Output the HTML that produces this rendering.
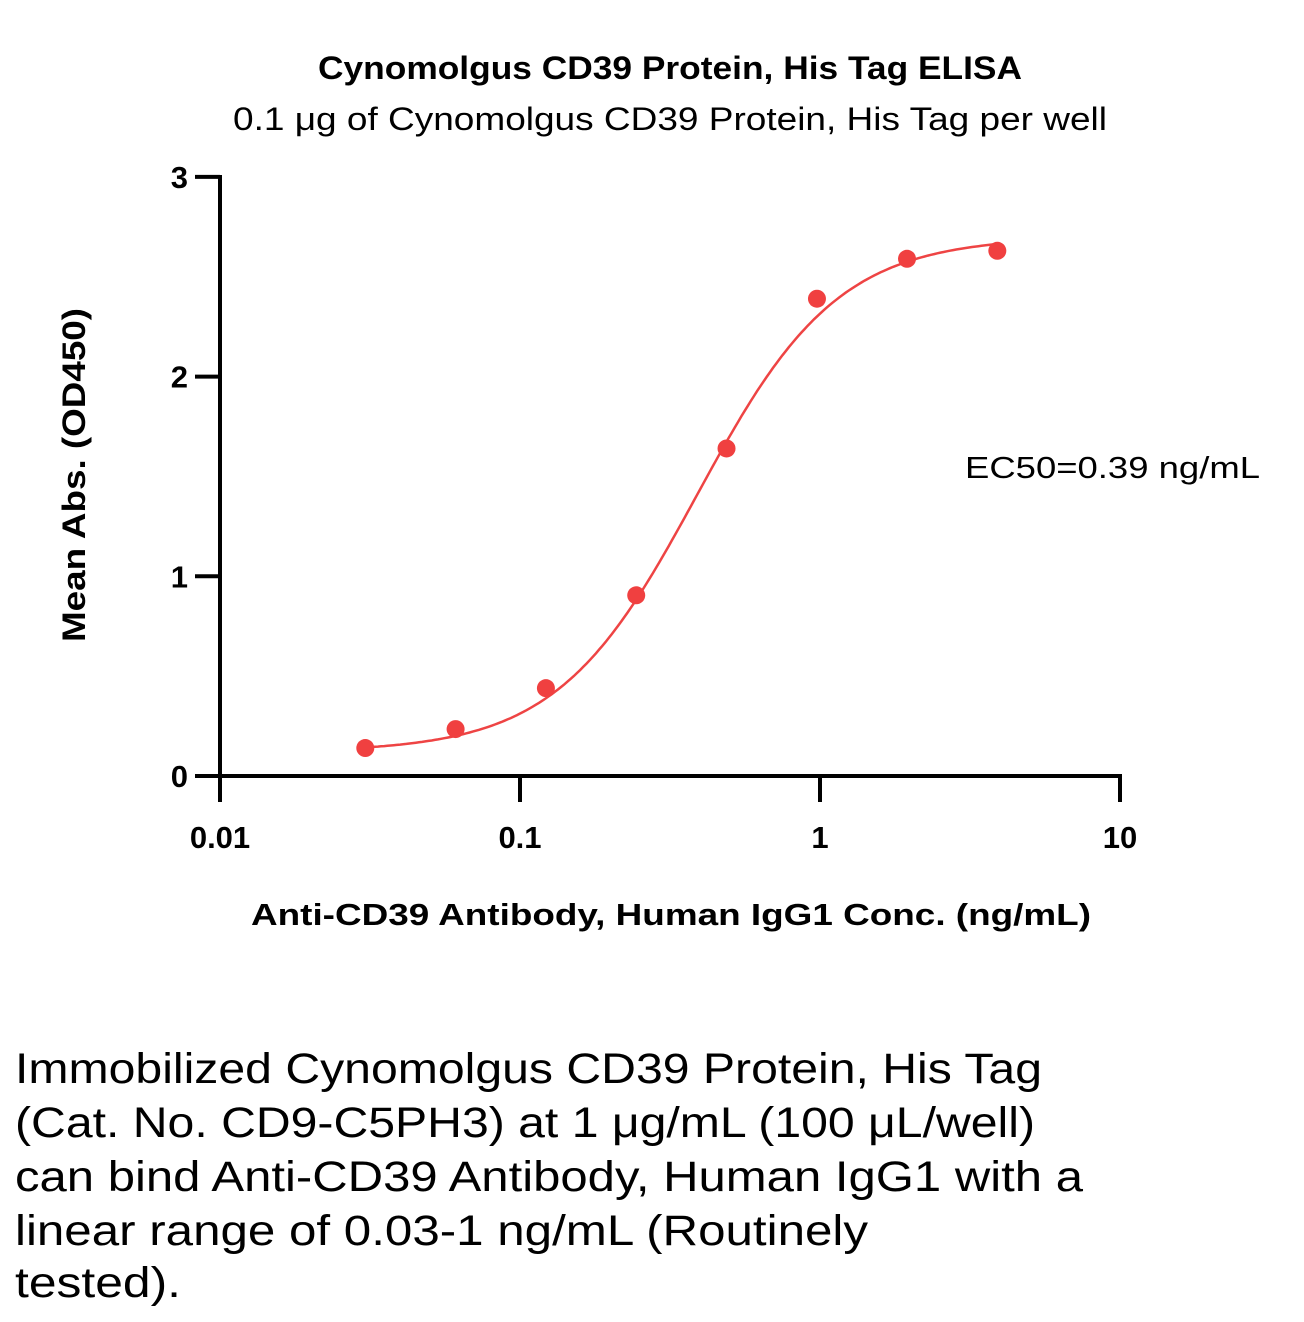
<!DOCTYPE html>
<html><head><meta charset="utf-8"><style>
body{margin:0;background:#fff;width:1304px;height:1322px;overflow:hidden;font-family:"Liberation Sans",sans-serif;}
</style></head><body>
<svg id="chart" width="1304" height="1322" style="position:absolute;left:0;top:0" font-family="Liberation Sans, sans-serif">
<text x="318" y="79" font-size="32" font-weight="bold" textLength="704" lengthAdjust="spacingAndGlyphs">Cynomolgus CD39 Protein, His Tag ELISA</text>
<text x="233" y="130" font-size="32" textLength="874" lengthAdjust="spacingAndGlyphs">0.1 μg of Cynomolgus CD39 Protein, His Tag per well</text>
<text transform="translate(85,642) rotate(-90)" font-size="32" font-weight="bold" textLength="334" lengthAdjust="spacingAndGlyphs">Mean Abs. (OD450)</text>
<text x="251" y="925" font-size="31" font-weight="bold" textLength="840" lengthAdjust="spacingAndGlyphs">Anti-CD39 Antibody, Human IgG1 Conc. (ng/mL)</text>
<text x="965" y="478" font-size="31" textLength="295" lengthAdjust="spacingAndGlyphs">EC50=0.39 ng/mL</text>
<g id="axes"></g><g id="marks"></g>
<g font-size="43">
<text x="15" y="1083" textLength="1027" lengthAdjust="spacingAndGlyphs">Immobilized Cynomolgus CD39 Protein, His Tag</text>
<text x="15" y="1137" textLength="1020" lengthAdjust="spacingAndGlyphs">(Cat. No. CD9-C5PH3) at 1 μg/mL (100 μL/well)</text>
<text x="15" y="1191" textLength="1068" lengthAdjust="spacingAndGlyphs">can bind Anti-CD39 Antibody, Human IgG1 with a</text>
<text x="15" y="1245" textLength="853" lengthAdjust="spacingAndGlyphs">linear range of 0.03-1 ng/mL (Routinely</text>
<text x="15" y="1297" textLength="166" lengthAdjust="spacingAndGlyphs">tested).</text>
</g>
</svg>
<script>
const concs=[0.0305,0.061,0.122,0.244,0.488,0.977,1.95,3.9];
const absVals=[0.14,0.235,0.44,0.905,1.64,2.39,2.59,2.63];
const yTicks=[0,1,2,3];
const xTicks=[0.01,0.1,1,10];
const xTickLabels=["0.01","0.1","1","10"];
const fitBottom=0.12, fitTop=2.70, fitEC50=0.39, fitHill=1.85;
const NS="http://www.w3.org/2000/svg";
const xs=v=>220+300*Math.log10(v/0.01);
const ys=v=>776-199.7*v;
function mk(t,a,p){const e=document.createElementNS(NS,t);for(const k in a)e.setAttribute(k,a[k]);p.appendChild(e);return e;}
const ax=document.getElementById('axes'), mg=document.getElementById('marks');
let l=mk('line',{x1:220,y1:175,x2:220,y2:778,stroke:'#000','stroke-width':4},ax);

l=mk('line',{x1:218,y1:776,x2:1122,y2:776,stroke:'#000','stroke-width':4},ax);

yTicks.forEach(v=>{
 const t=mk('line',{x1:195,y1:ys(v),x2:220,y2:ys(v),stroke:'#000','stroke-width':4},ax);
 
 const tx=mk('text',{x:188,y:ys(v)+11,'text-anchor':'end','font-size':31,'font-weight':'bold'},ax);tx.textContent=v;
 
});
xTicks.forEach((v,i)=>{
 const t=mk('line',{x1:xs(v),y1:776,x2:xs(v),y2:802,stroke:'#000','stroke-width':4},ax);
 
 const tx=mk('text',{x:xs(v),y:848,'text-anchor':'middle','font-size':31,'font-weight':'bold'},ax);tx.textContent=xTickLabels[i];
 
});
let d='';const lo=Math.log10(concs[0]),hi=Math.log10(concs[concs.length-1]);
for(let i=0;i<=200;i++){const c=Math.pow(10,lo+(hi-lo)*i/200);const y=fitBottom+(fitTop-fitBottom)/(1+Math.pow(fitEC50/c,fitHill));d+=(i?'L':'M')+xs(c).toFixed(1)+','+ys(y).toFixed(1);}
const p=mk('path',{d:d,fill:'none',stroke:'#ee4444','stroke-width':2.5},mg);

concs.forEach((c,i)=>{
 const ci=mk('circle',{cx:xs(c),cy:ys(absVals[i]),r:9,fill:'#f04040'},mg);
 
});
</script>
</body></html>
